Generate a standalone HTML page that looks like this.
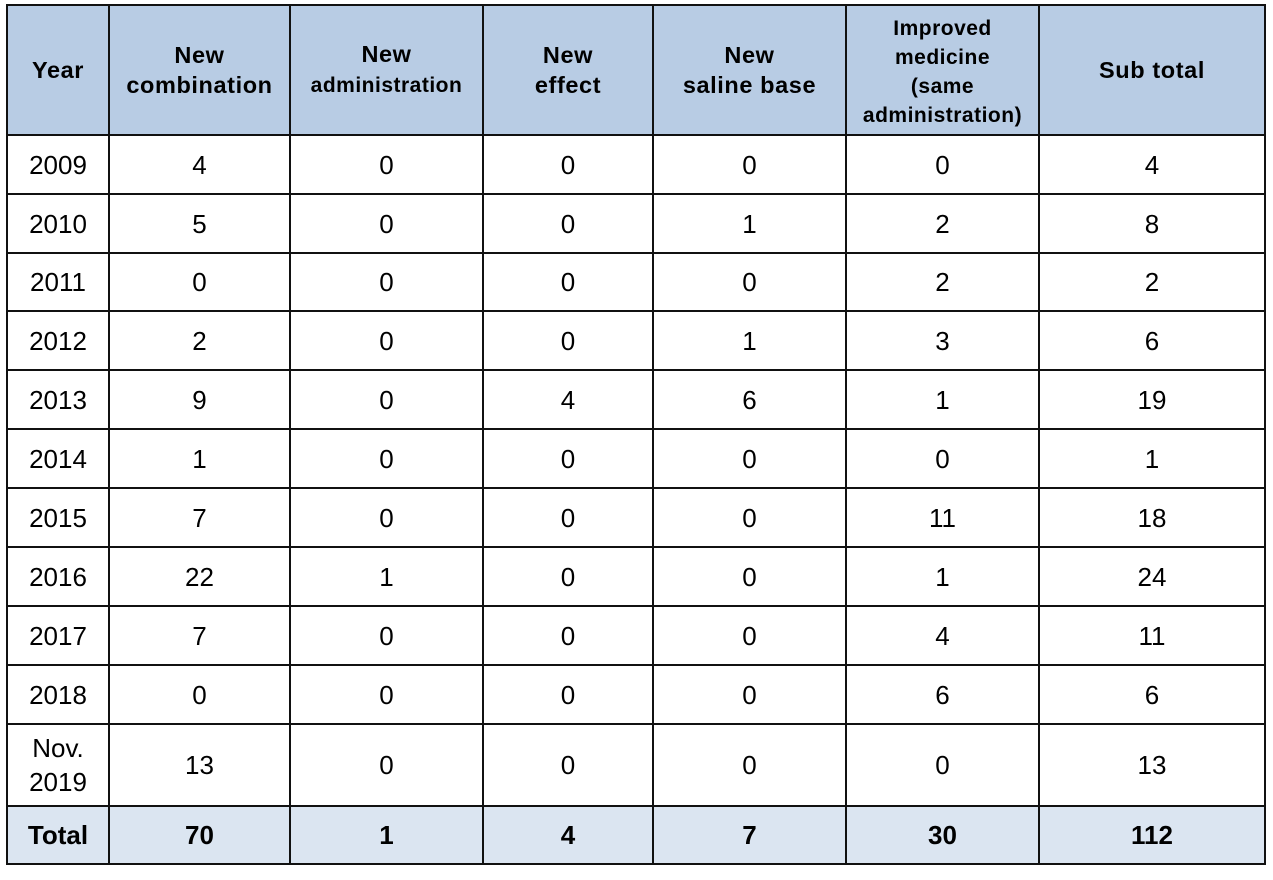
<!DOCTYPE html>
<html>
<head>
<meta charset="utf-8">
<style>
  html, body { margin:0; padding:0; background:#ffffff; }
  body { width:1273px; height:880px; position:relative; overflow:hidden;
         font-family:"Liberation Sans", "DejaVu Sans", sans-serif; color:#000; }
  .grid {
    position:absolute; left:6px; top:4px;
    display:grid;
    grid-template-columns: 100px 179px 191px 168px 191px 191px 224px;
    grid-template-rows: 128px 57px 57px 56px 57px 57px 57px 57px 57px 57px 57px 80px 56px;
    gap:2px; padding:2px; background:#111;
  }
  .grid > div {
    background:#fff; display:flex; align-items:center; justify-content:center;
    text-align:center; font-size:26px; line-height:34px;
  }
  .grid > div.h {
    background:#b8cce4; font-weight:bold; font-size:23.5px; line-height:30px; letter-spacing:0.6px;
  }
  .grid > div.h .s { font-size:21px; letter-spacing:0.5px; }
  .grid > div.h.imp { font-size:21px; line-height:29px; letter-spacing:0.5px; padding-top:4px; box-sizing:border-box; }
  .grid > div.t { background:#dbe5f1; font-weight:bold; }
</style>
</head>
<body>
<div class="grid">
  <div class="h">Year</div>
  <div class="h">New<br>combination</div>
  <div class="h"><span>New<br><span class="s">administration</span></span></div>
  <div class="h">New<br>effect</div>
  <div class="h">New<br>saline base</div>
  <div class="h imp">Improved<br>medicine<br>(same<br>administration)</div>
  <div class="h">Sub total</div>

  <div>2009</div><div>4</div><div>0</div><div>0</div><div>0</div><div>0</div><div>4</div>
  <div>2010</div><div>5</div><div>0</div><div>0</div><div>1</div><div>2</div><div>8</div>
  <div>2011</div><div>0</div><div>0</div><div>0</div><div>0</div><div>2</div><div>2</div>
  <div>2012</div><div>2</div><div>0</div><div>0</div><div>1</div><div>3</div><div>6</div>
  <div>2013</div><div>9</div><div>0</div><div>4</div><div>6</div><div>1</div><div>19</div>
  <div>2014</div><div>1</div><div>0</div><div>0</div><div>0</div><div>0</div><div>1</div>
  <div>2015</div><div>7</div><div>0</div><div>0</div><div>0</div><div>11</div><div>18</div>
  <div>2016</div><div>22</div><div>1</div><div>0</div><div>0</div><div>1</div><div>24</div>
  <div>2017</div><div>7</div><div>0</div><div>0</div><div>0</div><div>4</div><div>11</div>
  <div>2018</div><div>0</div><div>0</div><div>0</div><div>0</div><div>6</div><div>6</div>
  <div>Nov.<br>2019</div><div>13</div><div>0</div><div>0</div><div>0</div><div>0</div><div>13</div>

  <div class="t">Total</div><div class="t">70</div><div class="t">1</div><div class="t">4</div><div class="t">7</div><div class="t">30</div><div class="t">112</div>
</div>
</body>
</html>
